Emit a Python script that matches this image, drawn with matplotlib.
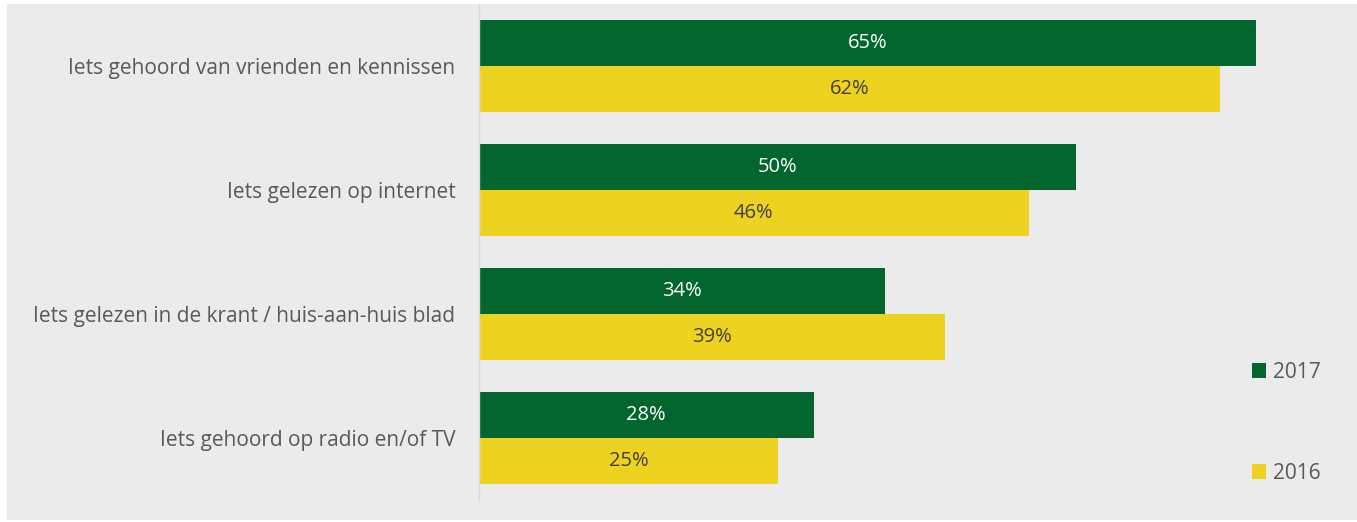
import numpy as np
import matplotlib.pyplot as plt
from matplotlib.patches import Rectangle, Patch

# Data
categories = ['Iets gehoord van vrienden en kennissen',
              'Iets gelezen op internet',
              'Iets gelezen in de krant / huis-aan-huis blad',
              'Iets gehoord op radio en/of TV']
values_2017 = [65, 50, 34, 28]
values_2016 = [62, 46, 39, 25]

green = '#03662F'
yellow = '#EDD31F'
bg = '#EBEBEB'
txt = '#595959'

plt.rcParams['font.family'] = ['Open Sans', 'DejaVu Sans']

W, H = 1357, 522
fig = plt.figure(figsize=(W / 100, H / 100), dpi=100, facecolor='white')
# grey panel behind everything
fig.patches.append(Rectangle((7 / W, 2 / H), 1 - 7 / W, (518 - 2) / H,
                             transform=fig.transFigure, facecolor=bg,
                             edgecolor='none', zorder=-10))

ax = fig.add_axes([479 / W, 22 / H, 836.5 / W, 496 / H])
ax.set_facecolor('none')

y = np.arange(len(categories))
h = 0.37
b1 = ax.barh(y - h / 2, values_2017, height=h, color=green, label='2017')
b2 = ax.barh(y + h / 2, values_2016, height=h, color=yellow, label='2016')

for bar, v in zip(b1, values_2017):
    ax.text(bar.get_width() / 2, bar.get_y() + bar.get_height() / 2, f'{v}%',
            ha='center', va='center', color='white', fontsize=14.5)
for bar, v in zip(b2, values_2016):
    ax.text(bar.get_width() / 2, bar.get_y() + bar.get_height() / 2, f'{v}%',
            ha='center', va='center', color='#404040', fontsize=14.5)

ax.set_xlim(0, 70)
ax.set_ylim(3.5, -0.5)
ax.set_yticks(y)
ax.set_yticklabels(categories, fontsize=15, color=txt)
ax.tick_params(axis='y', length=0, pad=17)
ax.set_xticks([])
for s in ['top', 'right', 'bottom']:
    ax.spines[s].set_visible(False)
ax.spines['left'].set_color('#D9D9D9')
ax.spines['left'].set_linewidth(1)

handles = [Patch(facecolor=green, label='2017'), Patch(facecolor=yellow, label='2016')]
fig.legend(handles=handles, loc='upper left', bbox_to_anchor=(1233 / W, 1 - 343 / H),
           frameon=False, fontsize=15, labelcolor=txt, handlelength=0.7,
           handleheight=0.7, handletextpad=0.3, labelspacing=3.85)

fig.savefig('out.png', dpi=100, facecolor='white')
